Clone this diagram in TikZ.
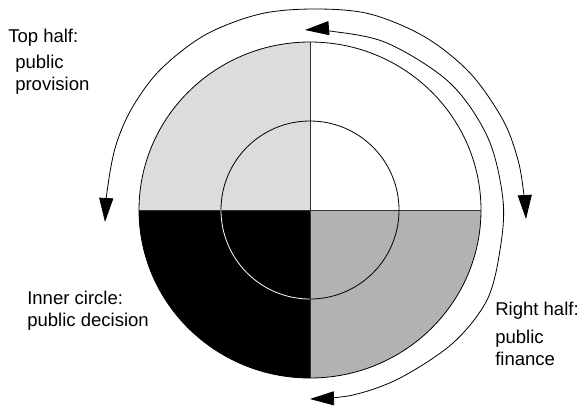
\documentclass[tikz,border=0pt]{standalone}
\usepackage{fontspec}
\setmainfont{Liberation Sans}
\usetikzlibrary{arrows.meta,calc}
\definecolor{qlight}{HTML}{DCDCDC}
\definecolor{qmid}{HTML}{B2B2B2}
\definecolor{qline}{HTML}{333333}
\begin{document}
\begin{tikzpicture}[x=0.75pt,y=-0.75pt,
  lbl/.style={inner sep=0pt, anchor=base west, font=\fontsize{13.9pt}{16pt}\selectfont},
  thin line/.style={line width=0.6pt},
  twotips/.style={thin line, {Triangle[length=18pt,width=10.5pt]}-{Triangle[length=18pt,width=10.5pt]}}
]
\useasboundingbox (0,0) rectangle (582,405);
\coordinate (c) at (310,210);
% quadrants
\fill[qlight] (c) -- +(-171,0) arc[start angle=180,end angle=270,x radius=171,y radius=168] -- cycle;
\fill[white] (c) -- +(0,-168) arc[start angle=270,end angle=360,x radius=171,y radius=168] -- cycle;
\fill[qmid] (c) -- +(171,0) arc[start angle=0,end angle=90,x radius=171,y radius=168] -- cycle;
\fill[black] (c) -- +(0,168) arc[start angle=90,end angle=180,x radius=171,y radius=168] -- cycle;
% cross
\draw[thin line, qline] ($(c)+(0,-168)$) -- ($(c)+(0,168)$);
\draw[thin line, qline] ($(c)+(-171,0)$) -- ($(c)+(171,0)$);
% outer edge
\draw[thin line] (c) ellipse[x radius=171,y radius=168];
% inner circle
\draw[thin line] (c) circle[radius=89];
\draw[thin line, white] ($(c)+(0,89)$) arc[start angle=90,end angle=180,radius=89];
% top half arrow
\draw[twotips] plot[smooth, tension=0.55] coordinates {(105,222) (108,185) (116,145) (132,108) (160,70) (205,35) (260,14) (315,9) (370,14) (425,37) (470,73) (503,120) (518,160) (524,195) (526,219)};
% right half arrow
\draw[twotips] plot[smooth, tension=0.55] coordinates {(305,30) (330,31) (387,43) (450,83) (488,138) (503,200) (500,250) (487,300) (453,343) (400,378) (353,395) (310,399)};
% labels
\node[lbl] (th) at (8,42) {Top half:};
\node[lbl] (pp1) at (15,68) {public};
\node[lbl] (pp2) at (15,90) {provision};
\node[lbl] (ic) at (27,304) {Inner circle:};
\node[lbl] (pd) at (27,326) {public decision};
\node[lbl] (rh) at (495,315) {Right half:};
\node[lbl] (pf1) at (495,343) {public};
\node[lbl] (pf2) at (495,365) {finance};
\end{tikzpicture}
\end{document}
